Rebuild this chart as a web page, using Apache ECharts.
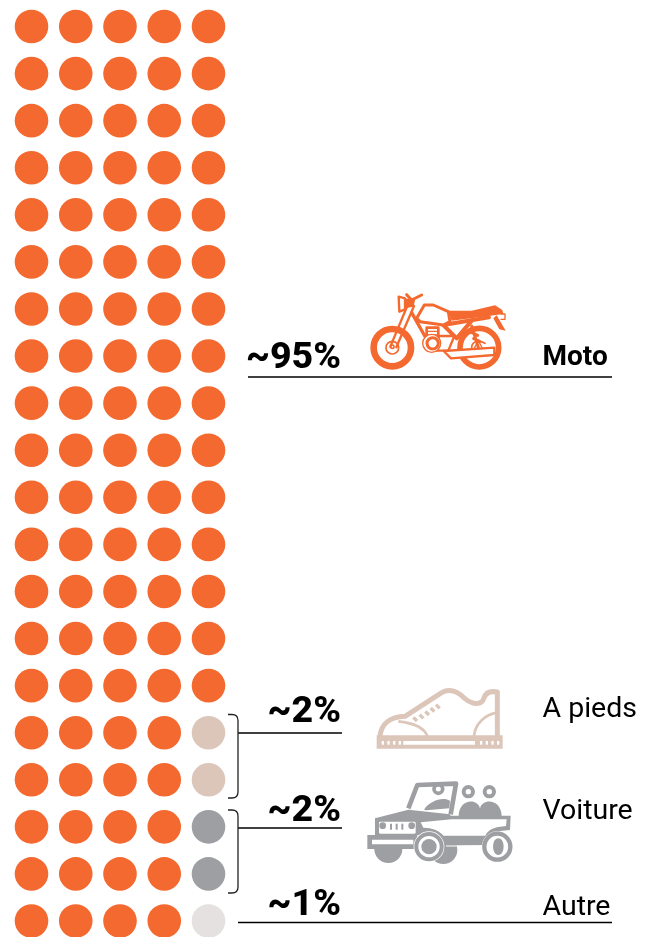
<!DOCTYPE html>
<html><head><meta charset="utf-8">
<style>html,body{margin:0;padding:0;background:#fff;overflow:hidden}#c{width:649px;height:937px}</style>
<script src="https://cdn.jsdelivr.net/npm/echarts@6/dist/echarts.min.js"></script>
</head><body><div id="c"></div>
<script>
const categories = ['Moto', 'A pieds', 'Voiture', 'Autre'];
const values = [95, 2, 2, 1];
const shareLabels = ['~95%', '~2%', '~2%', '~1%'];
const colours = ['#F4692F', '#DCC6BA', '#9D9FA2', '#E4E1E0'];
const columns = 5, rows = 20;

const FONT = 'Roboto, sans-serif';
const cells = [];
const catOfCell = values.flatMap((v, i) => Array(v).fill(i));
catOfCell.forEach((cat, i) => {
  cells.push({ value: [Math.floor(i / rows), i % rows, categories[cat]], itemStyle: { color: colours[cat], opacity: 1 } });
});

const chart = echarts.init(document.getElementById('c'));

let shapeId = 0;
function pathEl(d, style, extra) {
  const type = 'pathShape' + (shapeId++);
  echarts.graphic.registerShape(type, echarts.graphic.extendPath(d, {}));
  return Object.assign({ type, style, silent: true }, extra || {});
}
function zoomGroup(x, y, children) { return { type: 'group', x, y, scaleX: 1 / 3, scaleY: 1 / 3, silent: true, children }; }
const P = (d, style) => pathEl(d, style);
const C = (cx, cy, r, style) => ({ type: 'circle', shape: { cx, cy, r }, style });
const R = (x, y, width, height, fill, r) => ({ type: 'rect', shape: { x, y, width, height, r: r || 0 }, style: { fill } });

function moto(c) {
  const s = w => ({ fill: 'none', stroke: c, lineWidth: w, lineJoin: 'round', lineCap: 'round' });
  const w = (lw) => ({ fill: '#fff', stroke: c, lineWidth: lw, lineJoin: 'round' });
  return zoomGroup(365, 290, [
    C(82, 173, 56, { fill: 'none', stroke: c, lineWidth: 20 }), C(82, 173, 19, s(5)), C(82, 170, 5, s(5)),
    C(343, 173, 58, { fill: 'none', stroke: c, lineWidth: 17 }),
    P('M320 173 C320 155 340 148 360 160', s(5)),
    P('M76 170 L128 45 M94 172 L147 48', s(7)),
    P('M101 20 L120 25 L120 58 L103 65 Z', s(7)),
    P('M120 25 L150 30 L146 50 L124 54 Z', { fill: c }),
    P('M125 14 L140 30 L170 15', s(9)),
    P('M140 68 L186 150', s(10)),
    P('M235 105 L372 82', s(12)),
    P('M235 105 L275 145 L320 92', s(12)),
    P('M155 85 L178 45 L205 45 L250 65 L255 95 L235 105 L165 95 Z', w(9)),
    P('M250 62 L320 62 L390 46 L412 60 L415 72 L370 78 L260 92 Z', { fill: c }),
    P('M395 76 L422 122 L403 118 L385 85 Z', { fill: c }),
    P('M408 72 H420 V88 H408', s(4)),
    P('M222 138 H268 L250 182 H215 Z', w(7)),
    P('M185 113 H220 V137 H185 Z', w(8)),
    P('M190 124 H215', s(4)),
    C(200, 160, 27, { fill: '#fff', stroke: c, lineWidth: 4 }),
    C(203, 160, 17, { fill: '#fff', stroke: c, lineWidth: 9 }),
    P('M320 108 L340 172 M320 128 L338 136 M326 146 L344 154', s(9)),
    P('M340 152 L325 180 H355 Z', s(4)),
    P('M236 183 L388 173 L388 195 L258 205 Z', w(7))
  ]);
}
function shoe(c) {
  const s = w => ({ fill: 'none', stroke: c, lineWidth: w, lineJoin: 'round' });
  const ticks = [35, 52, 69, 86, 330, 347, 364, 381].map(x => R(x, 177, 7, 11, '#fff'));
  const laces = [[130,106,141,117],[149,98,160,109],[166,88,177,99],[182,78,193,89],[198,68,209,79]].map(l =>
    P(`M${l[0]} ${l[1]} L${l[2]} ${l[3]}`, { stroke: c, lineWidth: 10, fill: 'none' }));
  return zoomGroup(370, 682, [
    P('M30 165 C32 125 60 105 105 103 L215 32 C240 18 265 30 285 50 C310 70 335 70 342 48 C348 28 365 27 382 30 L382 165', s(15)),
    P('M85 118 C120 122 160 130 172 162', s(8)),
    P('M312 162 C315 125 345 98 382 92', s(8)),
    ...laces,
    R(20, 160, 378, 40, c),
    R(100, 177, 215, 11, '#fff'),
    ...ticks
  ]);
}
function jeep(c) {
  const s = w => ({ fill: 'none', stroke: c, lineWidth: w, lineJoin: 'round' });
  const grille = [90, 107, 124].map(x => R(x, 146, 6, 18, c));
  return zoomGroup(360, 775, [
    P('M145 100 L172 30 L288 26 L272 118', s(14)),
    C(235, 42, 13, s(11)),
    P('M192 104 C205 80 250 62 270 78 L268 100 L200 106 Z', { fill: c }),
    C(325, 50, 14, s(12)), C(388, 50, 14, s(12)),
    P('M296 124 C296 72 352 68 360 100 C368 68 425 72 425 124 Z', { fill: c }),
    P('M45 130 L145 104 L270 118 L272 122 L452 122 L450 165 L420 168 L390 210 L240 212 L175 180 L45 182 Z', { fill: c }),
    P('M182 142 L275 133 L440 133 L438 153 L410 157 C392 162 382 170 376 182 L250 182 C240 166 210 157 190 158 Z', { fill: '#fff' }),
    R(57, 140, 110, 36, '#fff', 4),
    C(68, 152, 10, { fill: c }), C(155, 152, 10, { fill: c }),
    ...grille,
    P('M43 222 A42 42 0 0 0 127 222 Z', { fill: c }),
    C(250, 225, 42, { fill: c }),
    R(22, 180, 150, 42, c),
    R(36, 194, 124, 14, '#fff'),
    C(207, 215, 46, { fill: '#fff' }),
    C(207, 215, 38, { fill: 'none', stroke: c, lineWidth: 12 }),
    C(207, 215, 23, { fill: c }),
    P('M258 213 H372', { stroke: '#fff', lineWidth: 3, fill: 'none' }),
    C(412, 215, 46, { fill: '#fff' }),
    C(412, 215, 39, s(13)),
    P('M415 190 C436 190 436 240 415 240 C394 240 394 190 415 190 Z', { fill: c })
  ]);
}

const lineStyle = { stroke: '#000', lineWidth: 1.5 };
const seg = (x1, y1, x2, y2) => ({ type: 'line', shape: { x1, y1, x2, y2 }, style: lineStyle, silent: true });
const brace = d => pathEl(d, { fill: 'none', stroke: '#222', lineWidth: 1.3 });
const share = (i, y) => ({ type: 'text', x: 341, y, silent: true,
  style: { text: shareLabels[i], font: '800 37.5px ' + FONT, fill: '#000', align: 'right', verticalAlign: 'bottom' } });
const name = (i, y, bold) => ({ type: 'text', x: 542.5, y, silent: true,
  style: { text: categories[i], font: (bold ? '700 ' : '400 ') + (bold ? '28px ' : '28.5px ') + FONT, fill: '#000', align: 'left', verticalAlign: 'bottom' } });

chart.setOption({
  animation: false,
  backgroundColor: '#fff',
  grid: { left: 31.5, top: 26.5, width: 177, height: 894.5 },
  xAxis: { type: 'value', min: 0, max: columns - 1, show: false },
  yAxis: { type: 'value', min: 0, max: rows - 1, inverse: true, show: false },
  tooltip: { show: false },
  series: [{ type: 'scatter', symbol: 'circle', symbolSize: 33.6, clip: false, data: cells, silent: true }],
  graphic: [
    seg(248, 377, 612, 377), seg(238, 733, 342, 733), seg(238, 828, 342, 828), seg(238, 922.5, 612, 922.5),
    brace('M228 714.5 H232 Q238 714.5 238 720.5 V792 Q238 798 232 798 H228'),
    brace('M228 810 H232 Q238 810 238 816 V887 Q238 893 232 893 H228'),
    share(0, 378), share(1, 732), share(2, 831), share(3, 925),
    name(0, 372, true), name(1, 724, false), name(2, 826, false), name(3, 922, false),
    moto(colours[0]), shoe(colours[1]), jeep(colours[2])
  ]
});
</script></body></html>
